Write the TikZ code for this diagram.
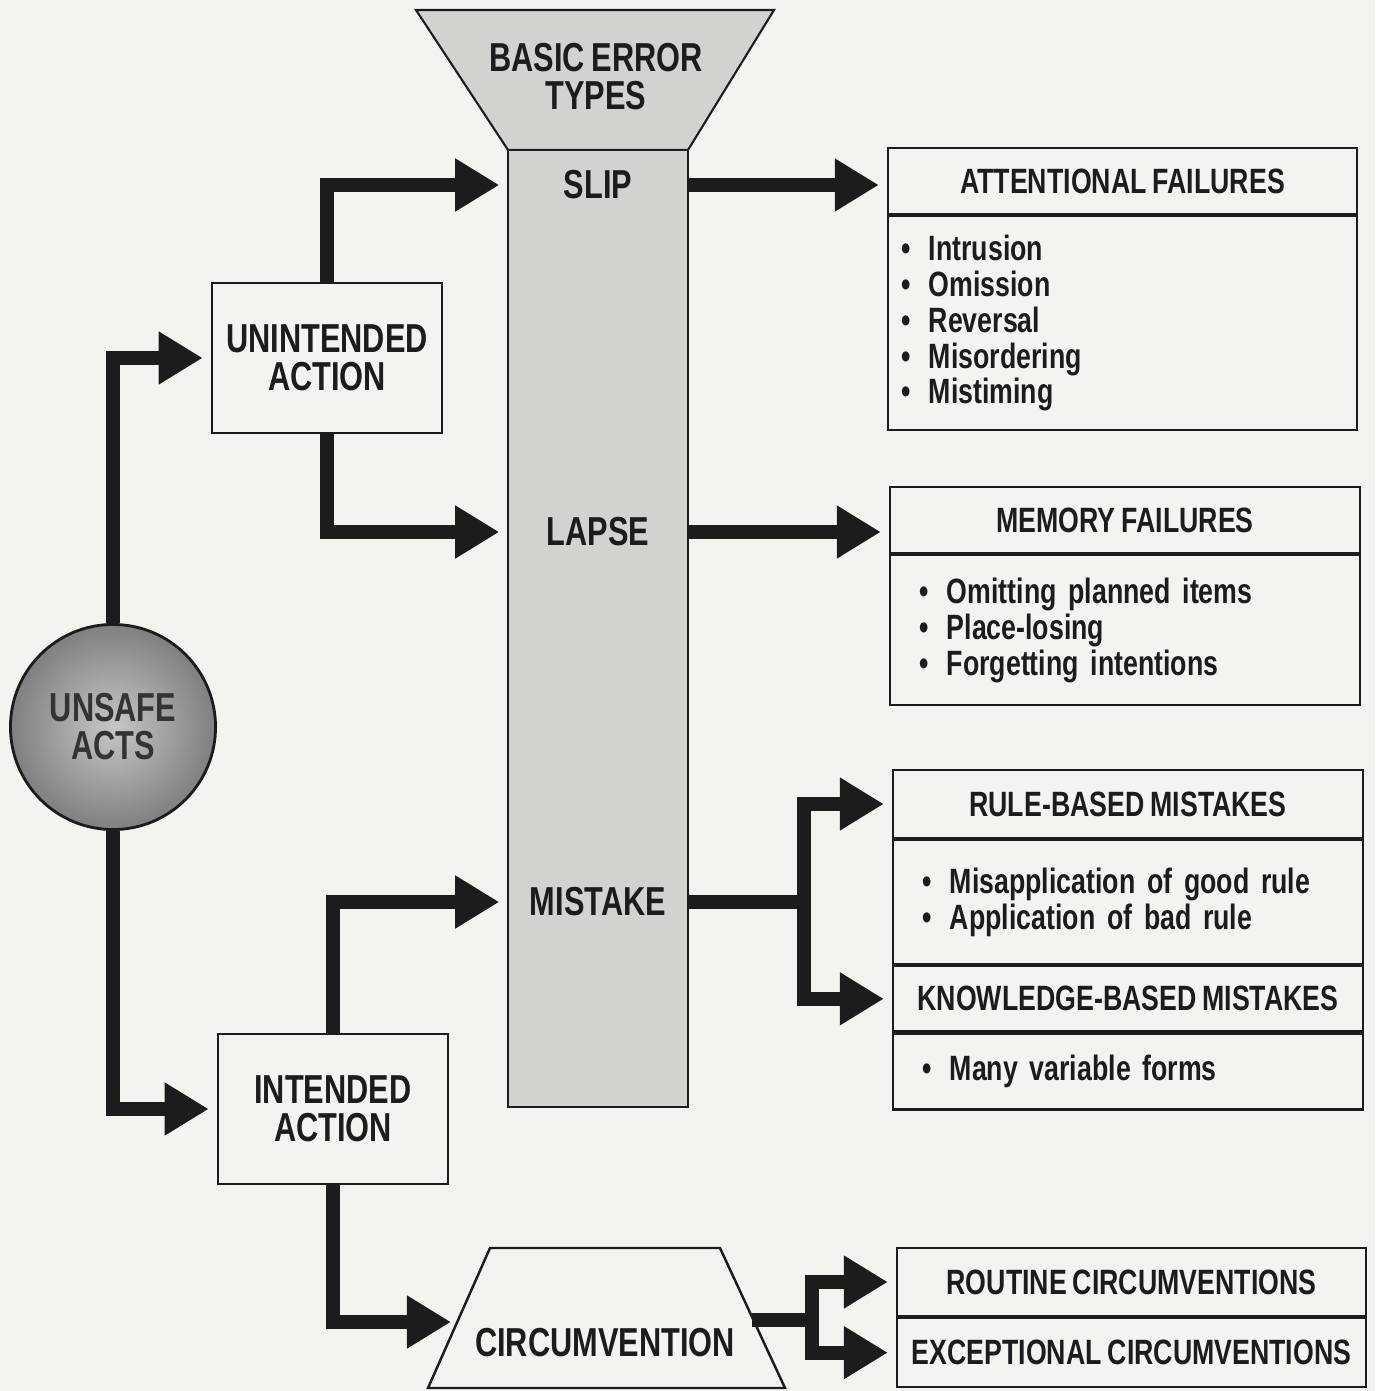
\documentclass[tikz,border=0pt]{standalone}
\usepackage{fontspec}
\setmainfont{Liberation Sans}[FakeStretch=0.76, WordSpace=0.8]
\usepackage{tikz}
\usetikzlibrary{arrows.meta,positioning}

\definecolor{paper}{RGB}{243,243,240}
\definecolor{ink}{RGB}{28,28,28}
\definecolor{colgray}{RGB}{210,210,207}
\newcommand{\itm}[1]{\textbullet\hspace{5pt}#1}

\begin{document}
\begin{tikzpicture}[
  x=0.01cm, y=-0.01cm,
  font=\bfseries\fontsize{11.5}{10.8}\selectfont,
  text=ink,
  actbox/.style={draw=ink, line width=0.7pt, minimum width=2.3cm,
                 minimum height=1.5cm, align=center},
  row/.style={minimum width=1.8cm, inner sep=0pt},
  title/.style={draw=ink, line width=0.6pt, minimum width=#1,
                minimum height=0.66cm, inner sep=0pt,
                font=\bfseries\fontsize{10}{10.2}\selectfont},
  title/.default=4.7cm,
  items/.style={draw=ink, line width=0.6pt, align=left, inner ysep=0pt,
                font=\bfseries\fontsize{10}{10.2}\selectfont},
  arr/.style={-{Triangle[length=0.44cm, width=0.5cm]}, line width=0.14cm,
              draw=ink, line join=miter, shorten >=0.08cm},
]

\path[fill=paper, use as bounding box] (0,0) rectangle (1375,1391);

%% --- Error type column ---
\draw[draw=ink, line width=0.6pt, fill=colgray]
     (416,10) -- (774,10) -- (688,150) -- (508,150) -- cycle;
\node[align=center] (types) at (596,77) {BASIC ERROR\\TYPES};
\node[draw=ink, line width=0.6pt, fill=colgray, minimum width=1.8cm,
      minimum height=9.57cm, inner sep=0pt] (col) at (598,628.5) {};

\node[row] (slip)    at (598,185) {SLIP};
\node[row] (lapse)   at (598,532) {LAPSE};
\node[row] (mistake) at (598,902) {MISTAKE};

%% --- Actions ---
\node[circle, draw=ink, line width=0.8pt, inner color=black!22,
      outer color=black!50, minimum size=2.05cm, align=center,
      text=black!80] (acts) at (113,727) {UNSAFE\\ACTS};

\node[actbox] (unint)  at (327,358)  {UNINTENDED\\ACTION};
\node[actbox] (intend) at (333,1109) {INTENDED\\ACTION};

\draw[draw=ink, line width=0.7pt]
     (490,1248) -- (720,1248) -- (785,1388) -- (428,1388) -- cycle;
\node (circ) at (605,1343) {CIRCUMVENTION};
\coordinate (circin)  at (459,1322);
\coordinate (circout) at (752,1320);

%% --- Failure boxes ---
\node[title=4.69cm] (att) at (1122.5,181) {ATTENTIONAL FAILURES};
\node[items, below=0pt of att, text width=4.41cm, inner xsep=0.14cm,
      minimum height=2.14cm] (attlist)
      {\itm{Intrusion}\\ \itm{Omission}\\ \itm{Reversal}\\
       \itm{Misordering}\\ \itm{Mistiming}};

\node[title] (mem) at (1125,520) {MEMORY FAILURES};
\node[items, below=0pt of mem, text width=4.1cm, inner xsep=0.3cm,
      minimum height=1.5cm] (memlist)
      {\itm{Omitting planned items}\\ \itm{Place-losing}\\
       \itm{Forgetting intentions}};

\node[title, minimum height=0.68cm] (rule) at (1128,804)
      {RULE-BASED MISTAKES};
\node[items, below=0pt of rule, text width=4.1cm, inner xsep=0.3cm,
      minimum height=1.24cm] (rulelist)
      {\itm{Misapplication of good rule}\\ \itm{Application of bad rule}};
\node[title, below=0pt of rulelist, minimum height=0.65cm] (know)
      {KNOWLEDGE-BASED MISTAKES};
\node[items, below=0pt of know, text width=4.1cm, inner xsep=0.3cm,
      minimum height=0.76cm] (knowlist) {\itm{Many variable forms}};

\node[title=4.69cm, minimum height=0.68cm] (routine) at (1131.5,1282)
      {ROUTINE CIRCUMVENTIONS};
\node[title=4.69cm, below=0pt of routine, minimum height=0.69cm] (exc)
      {EXCEPTIONAL CIRCUMVENTIONS};

%% --- Arrows ---
\draw[arr] (acts.north)   |- (unint.west);
\draw[arr] (acts.south)   |- (intend.west);
\draw[arr] (unint.north)  |- (slip.west);
\draw[arr] (unint.south)  |- (lapse.west);
\draw[arr] (intend.north) |- (mistake.west);
\draw[arr] (intend.south) |- (circin);

\draw[arr] (slip.east)  -- (slip.east -| att.west);
\draw[arr] (lapse.east) -- (lapse.east -| mem.west);

\coordinate (mfork) at ([xshift=1.15cm]mistake.east);
\draw[arr] (mistake.east) -- (mfork) |- (rule.west);
\draw[arr] (mfork) |- (know.west);

\coordinate (cfork) at ([xshift=0.6cm]circout);
\draw[arr] (circout) -- (cfork) |- (routine.west);
\draw[arr] (cfork) |- (exc.west);

\end{tikzpicture}
\end{document}
